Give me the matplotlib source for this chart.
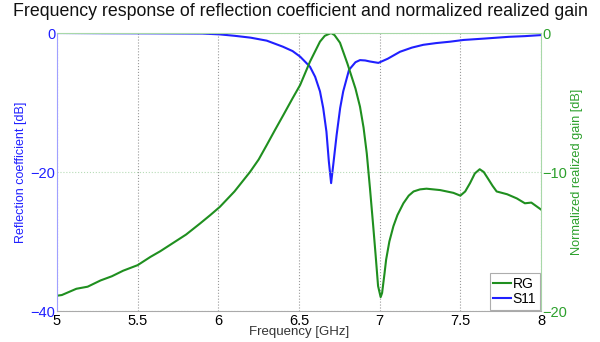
import matplotlib
matplotlib.use("Agg")
import matplotlib.pyplot as plt

plt.rcParams['font.family'] = ['Liberation Sans', 'DejaVu Sans']

# S11 (reflection coefficient, dB)
s11_f = [5.0, 5.3, 5.6, 5.9, 6.01, 6.1, 6.2, 6.3, 6.4, 6.46, 6.507, 6.568, 6.60, 6.63, 6.65,
         6.67, 6.685, 6.699, 6.712, 6.733, 6.755, 6.774, 6.81, 6.85, 6.878, 6.91,
         6.94, 6.992, 7.05, 7.126, 7.2, 7.27, 7.35, 7.436, 7.52, 7.65, 7.8, 7.9, 8.0]
s11_db = [0.0, -0.03, -0.05, -0.08, -0.2, -0.4, -0.67, -1.1, -1.97, -2.6, -3.4, -4.85, -6.3, -8.4, -10.8,
          -14.2, -18.5, -21.6, -19.0, -14.7, -10.8, -8.4, -5.3, -4.2, -3.9, -3.95,
          -4.1, -4.3, -3.7, -2.7, -2.1, -1.7, -1.45, -1.25, -1.0, -0.8, -0.55, -0.45, -0.3]

# RG (normalized realized gain, dB)
rg_f = [5.0, 5.03, 5.12, 5.19, 5.27, 5.34, 5.41, 5.50, 5.58, 5.64, 5.72, 5.80, 5.887,
        5.95, 6.01, 6.1, 6.196, 6.25, 6.30, 6.35, 6.403, 6.46, 6.507, 6.568, 6.63, 6.66, 6.699,
        6.72, 6.754, 6.80, 6.85, 6.878, 6.90, 6.92, 6.94, 6.96, 6.975, 6.99, 7.006,
        7.015, 7.03, 7.04, 7.06, 7.085, 7.11, 7.147, 7.18, 7.21, 7.25, 7.29, 7.375, 7.457,
        7.50, 7.53, 7.56, 7.59, 7.62, 7.645, 7.67, 7.70, 7.725, 7.79, 7.85, 7.90, 7.94, 8.0]
rg_db = [-18.9, -18.85, -18.4, -18.25, -17.8, -17.5, -17.1, -16.7, -16.1, -15.7, -15.1, -14.5, -13.7,
         -13.1, -12.5, -11.4, -10.0, -9.1, -8.06, -7.0, -5.9, -4.7, -3.74, -2.06, -0.62, -0.2, 0.0,
         -0.15, -0.7, -2.2, -4.0, -5.3, -6.8, -8.66, -11.2, -13.9, -16.0, -18.2, -19.0,
         -18.7, -17.3, -16.3, -15.0, -13.9, -13.1, -12.25, -11.7, -11.4, -11.25, -11.2, -11.3, -11.5,
         -11.7, -11.4, -10.8, -10.1, -9.8, -10.0, -10.45, -11.0, -11.4, -11.6, -11.9, -12.25, -12.2, -12.7]

x_ticks = [5, 5.5, 6, 6.5, 7, 7.5, 8]
x_ticklabels = ['5', '5.5', '6', '6.5', '7', '7.5', '8']

blue = '#2020ff'
green = '#1f8f1f'
green_txt = '#2ca02c'

fig = plt.figure(figsize=(6.0, 3.42), dpi=100)
ax = fig.add_axes([0.095, 0.0906, 0.8067, 0.8129])
ax2 = ax.twinx()

l_s11, = ax.plot(s11_f, s11_db, color=blue, lw=1.5, label='S11')
l_rg, = ax2.plot(rg_f, rg_db, color=green, lw=1.5, label='RG')

ax.set_xlim(5, 8)
ax.set_ylim(-40, 0)
ax2.set_ylim(-20, 0)
ax.set_xticks(x_ticks)
ax.set_xticklabels(x_ticklabels)
ax.set_yticks([-40, -20, 0])
ax2.set_yticks([-20, -10, 0])

ax.tick_params(axis='x', labelsize=10.5, length=0, pad=2, colors='black')
ax.tick_params(axis='y', labelsize=10.5, length=0, pad=1, colors=blue)
ax2.tick_params(axis='y', labelsize=10.5, length=0, pad=1, colors=green_txt)

ax.xaxis.grid(True, color='#999999', ls=':', lw=0.8)
ax2.yaxis.grid(True, color='#b8dcb8', ls=':', lw=0.8)
ax.set_axisbelow(True)

for sp in ['top', 'bottom', 'left', 'right']:
    ax.spines[sp].set_visible(False)
ax2.spines['left'].set_color('#a0a0ff')
ax2.spines['right'].set_color('#a8d8a8')
ax2.spines['top'].set_color('#a8d8a8')
ax2.spines['bottom'].set_color('#aaaaaa')
for sp in ax2.spines.values():
    sp.set_linewidth(0.8)

ax.set_xlabel('Frequency [GHz]', fontsize=9.5, labelpad=-1, color='#333333')
ax.set_ylabel('Reflection coefficient [dB]', fontsize=9, color=blue, labelpad=3)
ax2.set_ylabel('Normalized realized gain [dB]', fontsize=9.2, color=green_txt, labelpad=3)

fig.suptitle('Frequency response of reflection coefficient and normalized realized gain',
             fontsize=12.8, y=0.99, color='#111111')

leg = ax2.legend([l_rg, l_s11], ['RG', 'S11'], loc='lower right', fontsize=10,
                 handlelength=1.3, handletextpad=0.1, borderpad=0.25, labelspacing=0.1,
                 fancybox=False, edgecolor='#999999', borderaxespad=0.1)
leg.get_frame().set_linewidth(0.8)

fig.savefig('out.png', dpi=100)
